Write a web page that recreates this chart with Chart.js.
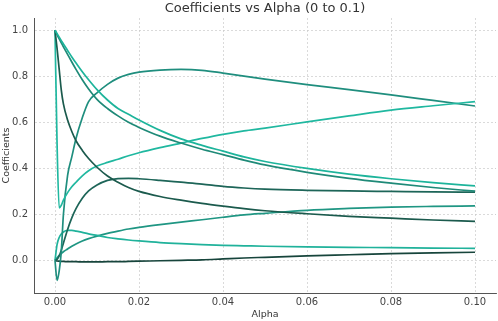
<!DOCTYPE html>
<html>
<head>
<meta charset="utf-8">
<script src="https://cdn.jsdelivr.net/npm/chart.js@4.4.1/dist/chart.umd.min.js"></script>
<style>
  html, body { margin: 0; padding: 0; background: #fff; }
  #wrap { width: 498px; height: 321px; }
</style>
</head>
<body>
<div id="wrap"><canvas id="c" width="498" height="321"></canvas></div>
<script>
// Shared x values (alpha)
const alpha = [0, 0.0005, 0.001, 0.0015, 0.002, 0.003, 0.004, 0.005, 0.0065, 0.008, 0.01, 0.0125, 0.015, 0.0175, 0.02, 0.025, 0.03, 0.035, 0.04, 0.045, 0.05, 0.06, 0.07, 0.08, 0.09, 0.1];

// Coefficient paths
const coefA = [1.0, 0.985, 0.97, 0.955, 0.94, 0.912, 0.884, 0.858, 0.82, 0.785, 0.742, 0.697, 0.66, 0.635, 0.61, 0.565, 0.528, 0.5, 0.475, 0.45, 0.43, 0.4, 0.375, 0.355, 0.338, 0.324];
const coefB = [1.0, 0.98, 0.962, 0.945, 0.928, 0.895, 0.862, 0.83, 0.785, 0.745, 0.7, 0.66, 0.628, 0.6, 0.578, 0.54, 0.51, 0.483, 0.46, 0.436, 0.415, 0.383, 0.357, 0.336, 0.317, 0.301];
const coefC = [1.0, 0.92, 0.83, 0.74, 0.68, 0.61, 0.56, 0.52, 0.478, 0.443, 0.405, 0.367, 0.34, 0.317, 0.3, 0.278, 0.262, 0.248, 0.236, 0.225, 0.216, 0.203, 0.192, 0.184, 0.176, 0.17];
const coefD = [1.0, 0.5, 0.228, 0.24, 0.262, 0.295, 0.32, 0.34, 0.368, 0.39, 0.41, 0.426, 0.44, 0.455, 0.468, 0.49, 0.51, 0.53, 0.548, 0.563, 0.575, 0.602, 0.628, 0.653, 0.672, 0.69];
const coefE = [0.0, -0.086, -0.045, 0.04, 0.2, 0.37, 0.45, 0.53, 0.62, 0.69, 0.728, 0.765, 0.792, 0.808, 0.818, 0.827, 0.83, 0.826, 0.814, 0.801, 0.788, 0.764, 0.742, 0.719, 0.695, 0.671];
const coefF = [0.0, 0.005, 0.02, 0.045, 0.075, 0.135, 0.185, 0.225, 0.27, 0.302, 0.328, 0.348, 0.356, 0.357, 0.355, 0.348, 0.34, 0.332, 0.322, 0.315, 0.31, 0.305, 0.302, 0.3, 0.298, 0.297];
const coefG = [0.0, 0.07, 0.1, 0.115, 0.124, 0.131, 0.131, 0.128, 0.122, 0.116, 0.109, 0.1, 0.094, 0.089, 0.085, 0.078, 0.073, 0.069, 0.066, 0.064, 0.062, 0.059, 0.057, 0.056, 0.054, 0.053];
const coefH = [0.0, 0.012, 0.022, 0.03, 0.038, 0.05, 0.062, 0.072, 0.085, 0.095, 0.106, 0.118, 0.128, 0.137, 0.144, 0.156, 0.167, 0.177, 0.188, 0.198, 0.205, 0.218, 0.226, 0.232, 0.235, 0.237];
const coefI = [0.0, -0.002, -0.003, -0.004, -0.004, -0.005, -0.005, -0.005, -0.006, -0.006, -0.006, -0.005, -0.005, -0.004, -0.003, -0.001, 0.001, 0.003, 0.007, 0.011, 0.014, 0.02, 0.025, 0.03, 0.033, 0.036];

const xTicks = [0, 0.02, 0.04, 0.06, 0.08, 0.1];
const yTicks = [0, 0.2, 0.4, 0.6, 0.8, 1.0];

const series = [
  { name: 'A', values: coefA, color: '#1db49b' },
  { name: 'B', values: coefB, color: '#1f8a78' },
  { name: 'C', values: coefC, color: '#1b5a4d' },
  { name: 'D', values: coefD, color: '#20b8a0' },
  { name: 'E', values: coefE, color: '#1f8e7e' },
  { name: 'F', values: coefF, color: '#1d6558' },
  { name: 'G', values: coefG, color: '#20b29b' },
  { name: 'H', values: coefH, color: '#1f9683' },
  { name: 'I', values: coefI, color: '#17453c' }
];

const datasets = series.map(s => ({
  label: s.name,
  data: alpha.map((a, i) => ({ x: a, y: s.values[i] })),
  borderColor: s.color,
  borderWidth: 1.7,
  pointRadius: 0,
  fill: false,
  cubicInterpolationMode: 'monotone'
}));

const FONT = 'DejaVu Sans';
const gridCfg = {
  color: 'rgba(200,200,200,0.85)',
  lineWidth: 0.8,
  drawTicks: false
};

new Chart(document.getElementById('c'), {
  type: 'line',
  data: { datasets },
  options: {
    responsive: false,
    animation: false,
    devicePixelRatio: 1,
    layout: { padding: { left: 0, right: 2, top: 0, bottom: 0 } },
    plugins: {
      legend: { display: false },
      tooltip: { enabled: false },
      title: {
        display: true,
        text: 'Coefficients vs Alpha (0 to 0.1)',
        fullSize: false,
        color: '#333',
        font: { family: FONT, size: 13, weight: 'normal' },
        padding: { top: 1, bottom: 1.4 }
      }
    },
    scales: {
      x: {
        type: 'linear',
        min: -0.005,
        max: 0.105,
        afterBuildTicks: (scale) => { scale.ticks = xTicks.map(v => ({ value: v })); },
        afterFit: (scale) => { scale.height = 28; },
        ticks: {
          color: '#444',
          font: { family: FONT, size: 10 },
          padding: 3,
          maxRotation: 0,
          callback: (v) => Number(v).toFixed(2)
        },
        grid: { ...gridCfg },
        border: { display: true, color: '#555', width: 1, dash: [2, 2] },
        title: {
          display: true,
          text: 'Alpha',
          color: '#333',
          font: { family: FONT, size: 9.5 },
          padding: { top: 0, bottom: 1 }
        }
      },
      y: {
        type: 'linear',
        min: -0.141,
        max: 1.053,
        afterBuildTicks: (scale) => { scale.ticks = yTicks.map(v => ({ value: v })); },
        afterFit: (scale) => { scale.width = 34; },
        ticks: {
          color: '#444',
          font: { family: FONT, size: 10 },
          padding: 6,
          callback: (v) => Number(v).toFixed(1)
        },
        grid: { ...gridCfg },
        border: { display: true, color: '#555', width: 1, dash: [2, 2] },
        title: {
          display: true,
          text: 'Coefficients',
          color: '#333',
          font: { family: FONT, size: 9.5 },
          padding: { top: 1, bottom: 0 }
        }
      }
    }
  }
});
</script>
</body>
</html>
